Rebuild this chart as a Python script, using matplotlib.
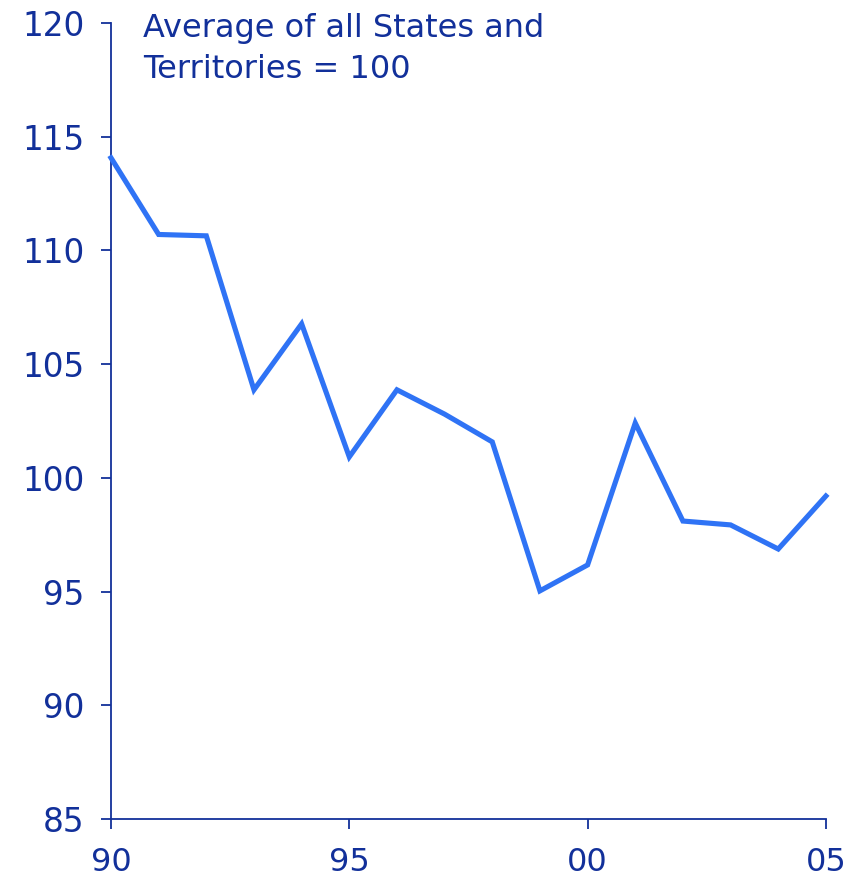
import matplotlib.pyplot as plt

years = [1990, 1991, 1992, 1993, 1994, 1995, 1996, 1997, 1998, 1999,
         2000, 2001, 2002, 2003, 2004, 2005]
index = [114.07, 110.7, 110.64, 103.87, 106.77, 100.92, 103.87, 102.8,
         101.58, 95.03, 96.17, 102.41, 98.1, 97.93, 96.87, 99.2]
xticks = [1990, 1995, 2000, 2005]
xlabels = ['90', '95', '00', '05']
yticks = [85, 90, 95, 100, 105, 110, 115, 120]

dark = '#12309A'
line_col = '#2F73F5'

fig = plt.figure(figsize=(8.63, 8.83), dpi=100)
ax = fig.add_axes([0.1286, 0.0725, 0.8284, 0.9015])

ax.plot(years, index, color=line_col, lw=3.7, solid_joinstyle='miter',
        clip_on=False, zorder=3)

ax.set_xlim(1990, 2005)
ax.set_ylim(85, 120)
ax.set_xticks(xticks)
ax.set_xticklabels(xlabels, fontsize=23)
ax.set_yticks(yticks)
ax.tick_params(axis='y', labelsize=23.5, colors=dark, length=7, width=1.3, pad=12)
ax.tick_params(axis='x', colors=dark, length=7, width=1.3, pad=13)

for s in ['top', 'right']:
    ax.spines[s].set_visible(False)
for s in ['left', 'bottom']:
    ax.spines[s].set_color(dark)
    ax.spines[s].set_linewidth(1.3)

ax.text(0.045, 1.012, 'Average of all States and\nTerritories = 100',
        transform=ax.transAxes, fontsize=23, color=dark, va='top',
        ha='left', linespacing=1.38)

fig.savefig('out.png', dpi=100)
